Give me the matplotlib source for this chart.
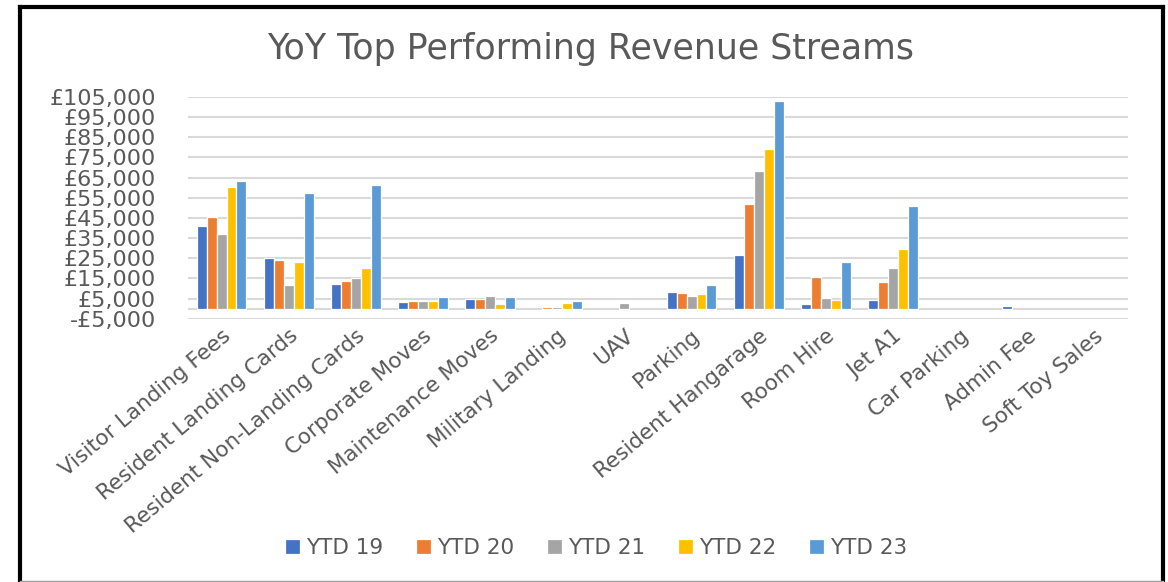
import numpy as np
import matplotlib
matplotlib.use("Agg")
import matplotlib.pyplot as plt
from matplotlib.lines import Line2D
from matplotlib.ticker import FuncFormatter

categories = ["Visitor Landing Fees", "Resident Landing Cards", "Resident Non-Landing Cards",
              "Corporate Moves", "Maintenance Moves", "Military Landing", "UAV", "Parking",
              "Resident Hangarage", "Room Hire", "Jet A1", "Car Parking", "Admin Fee",
              "Soft Toy Sales"]
series_names = ["YTD 19", "YTD 20", "YTD 21", "YTD 22", "YTD 23"]
ytd19 = [41000, 25300, 12400, 3300, 5000, 0, 0, 8400, 26500, 2100, 4500, 0, 1300, 0]
ytd20 = [45700, 24300, 13500, 4000, 4600, 900, 0, 7900, 51900, 15700, 13100, 0, 0, 0]
ytd21 = [37200, 11700, 15200, 4000, 6100, 800, 2800, 6100, 68300, 5100, 20300, 0, 0, 0]
ytd22 = [60300, 23100, 20300, 4000, 2100, 2800, 0, 7200, 79100, 4500, 29800, 0, 0, 0]
ytd23 = [63200, 57600, 61500, 5600, 5600, 3900, 0, 11900, 103200, 23100, 50800, 0, 0, 0]
colors = ["#4472C4", "#ED7D31", "#A5A5A5", "#FFC000", "#5B9BD5"]
yticks = list(range(-5000, 105001, 10000))

W, H = 1168, 582
fig = plt.figure(figsize=(W / 100, H / 100), dpi=100)
ax = fig.add_axes([188 / W, 1 - 318.7 / H, (1128 - 188) / W, (318.7 - 97) / H])

x = np.arange(len(categories))
bw = 0.148
for i, (name, vals) in enumerate(zip(series_names, [ytd19, ytd20, ytd21, ytd22, ytd23])):
    lws = [0.9 if v else 0 for v in vals]
    ax.bar(x + (i - 2) * bw, vals, width=bw, color=colors[i], edgecolor="white",
           linewidth=lws, label=name, zorder=3)

ax.set_xlim(-0.5, len(categories) - 0.5)
ax.set_ylim(-5000, 105000)
ax.set_yticks(yticks)
ax.yaxis.set_major_formatter(FuncFormatter(
    lambda v, p: ("-£{:,}".format(int(-v)) if v < 0 else "£{:,}".format(int(v)))))
ax.grid(axis="y", color="#d9d9d9", linewidth=1.5, zorder=0)
ax.axhline(0, color="#d9d9d9", linewidth=1.5, zorder=1)
for s in ax.spines.values():
    s.set_visible(False)
ax.tick_params(axis="y", length=0, pad=23, labelsize=16, labelcolor="#595959")
ax.tick_params(axis="x", length=0, pad=5)
ax.set_xticks(x)
ax.set_xticklabels(categories, rotation=40, ha="right", va="top",
                   rotation_mode="anchor", fontsize=15.5, color="#595959")

fig.text(591 / W, 1 - 49 / H, "YoY Top Performing Revenue Streams", ha="center",
         va="center", fontsize=25, color="#595959")

handles, labels = ax.get_legend_handles_labels()
fig.legend(handles, labels, loc="center", bbox_to_anchor=(596 / W, 1 - 548 / H), ncol=5,
           frameon=False, fontsize=15.5, handlelength=0.7, handleheight=0.7,
           handletextpad=0.3, columnspacing=1.5, labelcolor="#595959")

# outer frame
fig.add_artist(Line2D([20 / W, 20 / W], [0, 1 - 7 / H], color="black", linewidth=3,
                      transform=fig.transFigure))
fig.add_artist(Line2D([20 / W, 1163 / W], [1 - 7 / H, 1 - 7 / H], color="black",
                      linewidth=3, transform=fig.transFigure))
fig.add_artist(Line2D([1163 / W, 1163 / W], [0, 1 - 7 / H], color="black", linewidth=3,
                      transform=fig.transFigure))
fig.add_artist(Line2D([20 / W, 1163 / W], [1 / H, 1 / H], color="#a0a0a0", linewidth=1,
                      transform=fig.transFigure))

fig.savefig("out.png", dpi=100)
